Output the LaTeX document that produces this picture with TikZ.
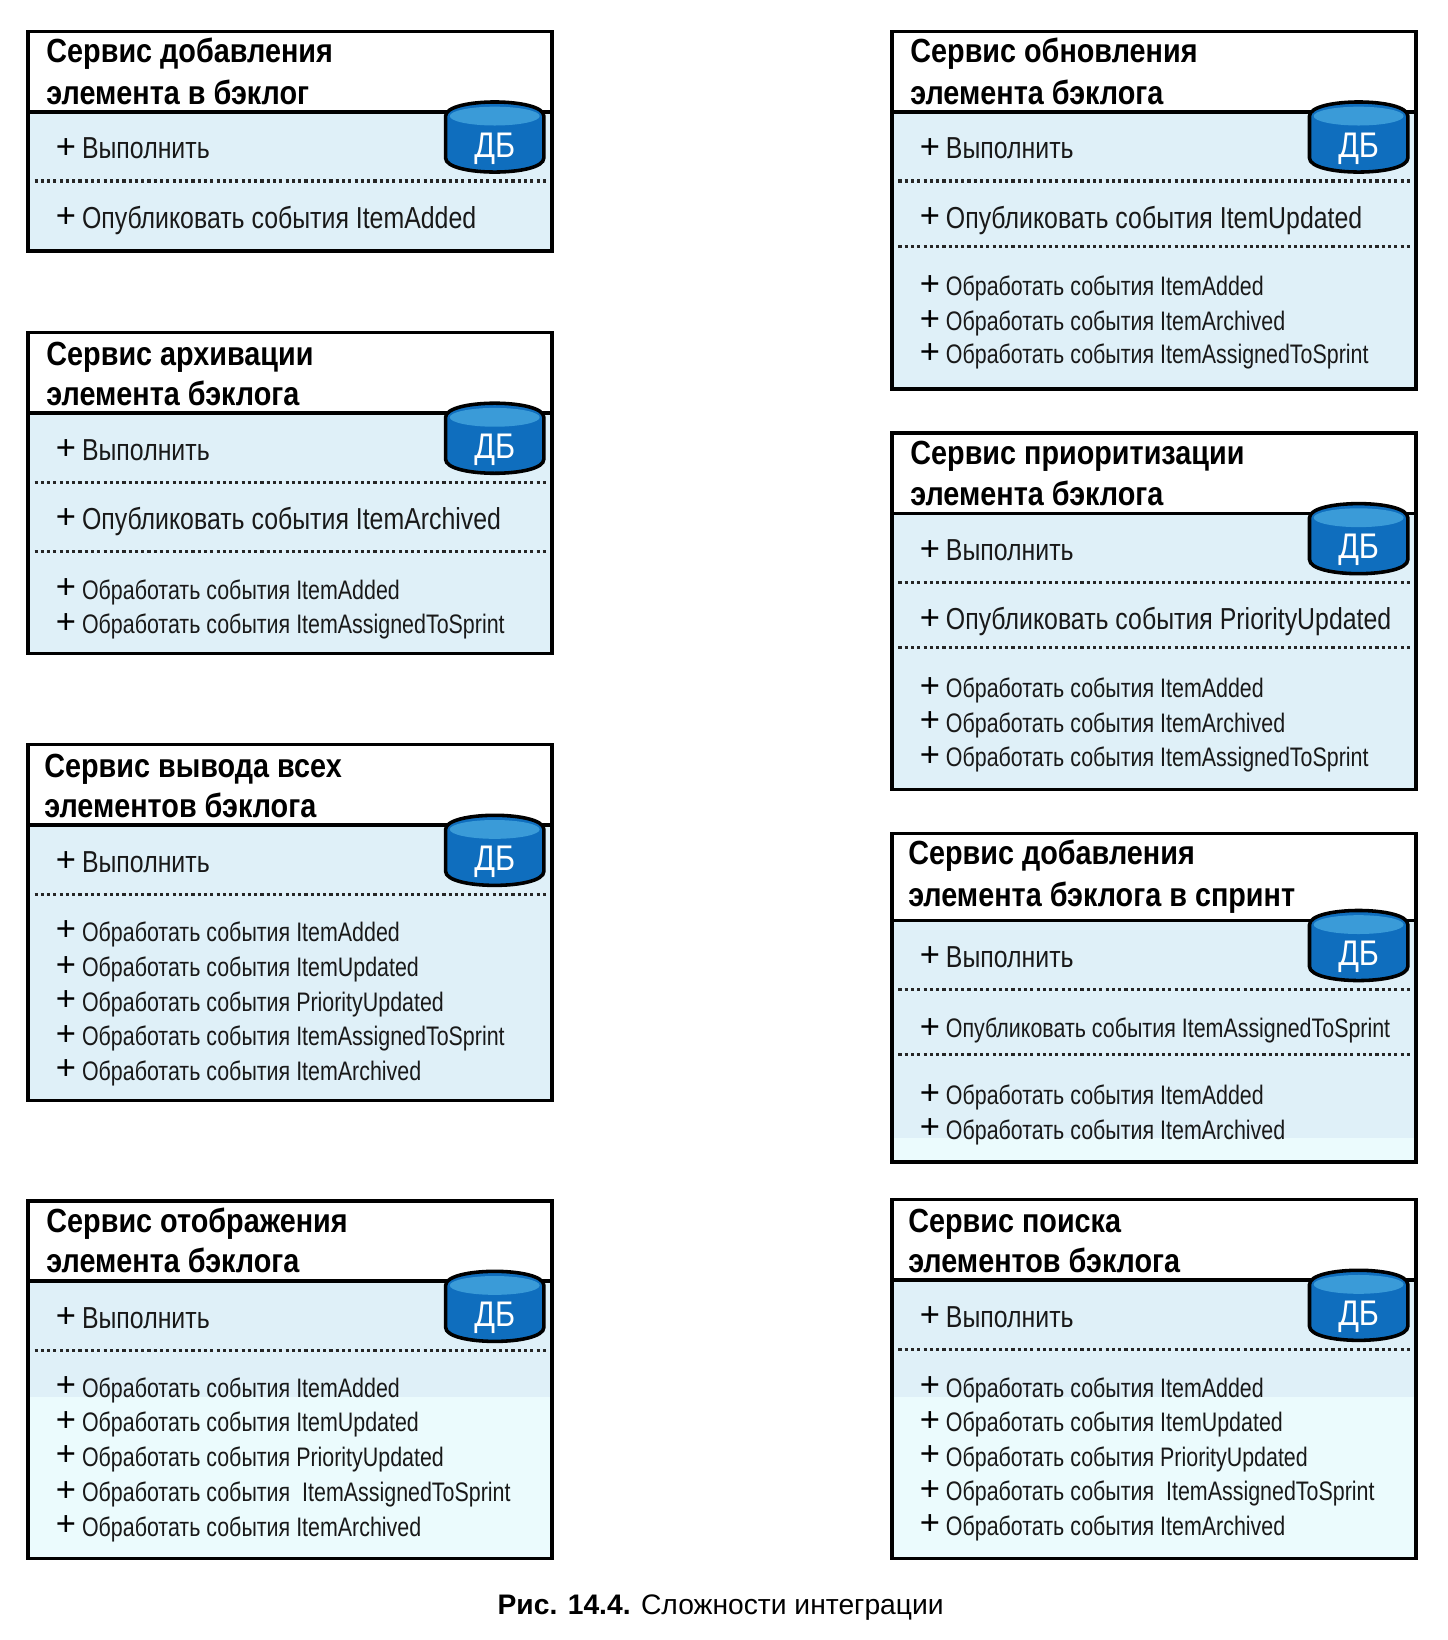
\documentclass[tikz,border=0pt]{standalone}
\usepackage{fontspec}
\setmainfont{Liberation Sans}
\newfontfamily\narrowf[FakeStretch=0.86]{Liberation Sans}
\newfontfamily\bigf[FakeStretch=0.82]{Liberation Sans}
\newfontfamily\smallf[FakeStretch=0.80]{Liberation Sans}
\definecolor{paneblue}{HTML}{DFF0F8}
\definecolor{panepale}{HTML}{EBFBFD}
\definecolor{dbbody}{HTML}{0F6EBE}
\definecolor{dbtop}{HTML}{3A9BD8}
\newcounter{nn}
\tikzset{
  titletxt/.style={anchor=base west,inner sep=0pt,font=\narrowf\fontsize{16}{18}\selectfont\bfseries,text=black},
  bigtxt/.style={anchor=base west,inner sep=0pt,font=\bigf\fontsize{14.5}{16}\selectfont,text=black!90},
  midtxt/.style={anchor=base west,inner sep=0pt,font=\smallf\fontsize{12.8}{15}\selectfont,text=black!90},
  smalltxt/.style={anchor=base west,inner sep=0pt,font=\smallf\fontsize{12.8}{15}\selectfont,text=black!90},
  plustxt/.style={anchor=center,inner sep=0pt,font=\fontsize{16.5}{17}\selectfont,text=black},
  frameline/.style={draw=black,line width=1.7pt},
  dotline/.style={draw=black!85,line width=1.5pt,dash pattern=on 1.5pt off 1.5pt},
  dbtxt/.style={anchor=center,inner sep=0pt,font=\narrowf\fontsize{17}{18}\selectfont,text=white},
}
% \panel{left}{top}{rule}{bottom}{break}
\newcommand{\panel}[5]{%
  \fill[paneblue] (#1,#3) rectangle (#1+501,#4);
  \fill[panepale] (#1,#5) rectangle (#1+501,#4);
  \draw[frameline] (#1,#3) -- (#1+501,#3);
  \draw[frameline] (#1,#2) rectangle (#1+501,#4);
}
\newcommand{\dotrule}[2]{\draw[dotline] (#1+6,#2) -- (#1+496,#2);}
\newcommand{\dbicon}[2]{%
  \begin{scope}[shift={(#1,#2)}]
    \draw[fill=dbbody,line width=1.7pt] (0,14) .. controls (0,-4) and (94,-4) .. (94,14) -- (94,54) .. controls (94,72) and (0,72) .. (0,54) -- cycle;
    \fill[dbtop] (47,14) ellipse [x radius=43,y radius=9];
    \stepcounter{nn}\node[dbtxt] (n\thenn) at (47,45) {ДБ};
  \end{scope}}
\newcommand{\ttl}[3]{\stepcounter{nn}\node[titletxt] (n\thenn) at (#1,#2+11) {#3};}
\newcommand{\plusat}[2]{\stepcounter{nn}\node[plustxt] (n\thenn) at (#1,#2) {+};}
\newcommand{\bigrow}[3]{\plusat{#1+7}{#2}\stepcounter{nn}\node[bigtxt] (n\thenn) at (#1+22,#2+10) {#3};}
\newcommand{\midrow}[3]{\plusat{#1+7}{#2}\stepcounter{nn}\node[midtxt] (n\thenn) at (#1+22,#2+9) {#3};}
\newcommand{\smrow}[3]{\plusat{#1+7}{#2-1}\stepcounter{nn}\node[smalltxt] (n\thenn) at (#1+22,#2+9) {#3};}
\begin{document}
\begin{tikzpicture}[x=0.5pt,y=-0.5pt]
\useasboundingbox (0,0) rectangle (1384,1568);
\fill[white] (0,0) rectangle (1384,1568);
% Box 1
\panel{27}{30}{107}{240}{240}
\dotrule{27}{173}
\ttl{44}{49}{Сервис добавления}\ttl{44}{89}{элемента в бэклог}
\bigrow{56}{142}{Выполнить}\bigrow{56}{208}{Опубликовать события ItemAdded}
\dbicon{426}{97}
% Box 2
\panel{27}{318}{395}{625}{625}
\dotrule{27}{461}\dotrule{27}{527}
\ttl{44}{338}{Сервис архивации}\ttl{44}{377}{элемента бэклога}
\bigrow{56}{430}{Выполнить}\bigrow{56}{496}{Опубликовать события ItemArchived}
\smrow{56}{564}{Обработать события ItemAdded}\smrow{56}{597}{Обработать события ItemAssignedToSprint}
\dbicon{426}{385}
% Box 3
\panel{27}{712}{789}{1052}{1052}
\dotrule{27}{855}
\ttl{42}{732}{Сервис вывода всех}\ttl{42}{771}{элементов бэклога}
\bigrow{56}{824}{Выполнить}
\smrow{56}{891}{Обработать события ItemAdded}\smrow{56}{925}{Обработать события ItemUpdated}
\smrow{56}{958}{Обработать события PriorityUpdated}\smrow{56}{991}{Обработать события ItemAssignedToSprint}
\smrow{56}{1024}{Обработать события ItemArchived}
\dbicon{426}{779}
% Box 4
\panel{27}{1148}{1225}{1490}{1336}
\dotrule{27}{1291}
\ttl{44}{1167}{Сервис отображения}\ttl{44}{1206}{элемента бэклога}
\bigrow{56}{1260}{Выполнить}
\smrow{56}{1327}{Обработать события ItemAdded}\smrow{56}{1360}{Обработать события ItemUpdated}
\smrow{56}{1393}{Обработать события PriorityUpdated}\smrow{56}{1427}{Обработать события\ \ ItemAssignedToSprint}
\smrow{56}{1460}{Обработать события ItemArchived}
\dbicon{426}{1215}
% Box 5
\panel{853}{30}{107}{372}{372}
\dotrule{853}{173}\dotrule{853}{236}
\ttl{870}{49}{Сервис обновления}\ttl{870}{89}{элемента бэклога}
\bigrow{882}{142}{Выполнить}\bigrow{882}{208}{Опубликовать события ItemUpdated}
\smrow{882}{274}{Обработать события ItemAdded}\smrow{882}{307}{Обработать события ItemArchived}
\smrow{882}{339}{Обработать события ItemAssignedToSprint}
\dbicon{1252}{97}
% Box 6
\panel{853}{414}{491}{755}{755}
\dotrule{853}{557}\dotrule{853}{619}
\ttl{870}{433}{Сервис приоритизации}\ttl{870}{472}{элемента бэклога}
\bigrow{882}{526}{Выполнить}\bigrow{882}{592}{Опубликовать события PriorityUpdated}
\smrow{882}{658}{Обработать события ItemAdded}\smrow{882}{691}{Обработать события ItemArchived}
\smrow{882}{724}{Обработать события ItemAssignedToSprint}
\dbicon{1252}{481}
% Box 7
\panel{853}{797}{880}{1111}{1088}
\dotrule{853}{946}\dotrule{853}{1008}
\ttl{868}{816}{Сервис добавления}\ttl{868}{856}{элемента бэклога в спринт}
\bigrow{882}{915}{Выполнить}\midrow{882}{983}{Опубликовать события ItemAssignedToSprint}
\smrow{882}{1047}{Обработать события ItemAdded}\smrow{882}{1080}{Обработать события ItemArchived}
\dbicon{1252}{870}
% Box 8
\panel{853}{1147}{1224}{1490}{1336}
\dotrule{853}{1290}
\ttl{868}{1167}{Сервис поиска}\ttl{868}{1206}{элементов бэклога}
\bigrow{882}{1259}{Выполнить}
\smrow{882}{1327}{Обработать события ItemAdded}\smrow{882}{1360}{Обработать события ItemUpdated}
\smrow{882}{1393}{Обработать события PriorityUpdated}\smrow{882}{1426}{Обработать события\ \ ItemAssignedToSprint}
\smrow{882}{1459}{Обработать события ItemArchived}
\dbicon{1252}{1214}
% Caption
\node[anchor=center,inner sep=0pt,font=\fontsize{13.5}{15}\selectfont] (caption) at (689,1537) {\textbf{Рис. 14.4.} Сложности интеграции};
\end{tikzpicture}
\end{document}
